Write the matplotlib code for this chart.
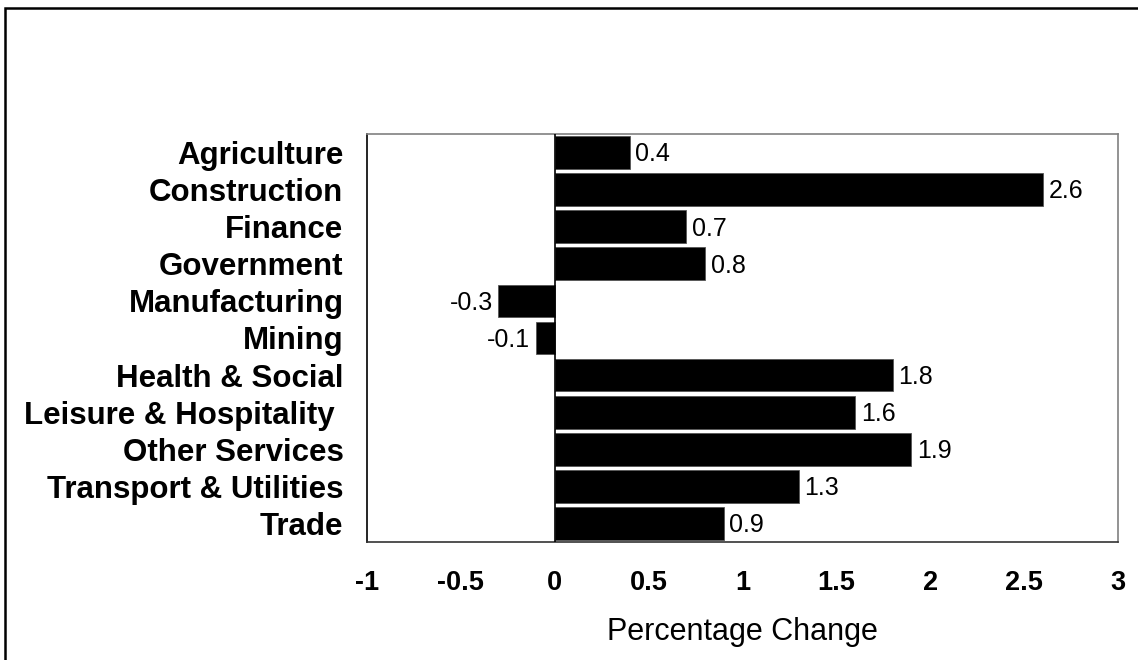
import matplotlib.pyplot as plt
from matplotlib.patches import Rectangle

plt.rcParams['font.family'] = ['Liberation Sans', 'DejaVu Sans']

# data (top to bottom)
sectors = ['Agriculture', 'Construction', 'Finance', 'Government', 'Manufacturing',
           'Mining', 'Health & Social', 'Leisure & Hospitality ', 'Other Services',
           'Transport & Utilities', 'Trade']
change = [0.4, 2.6, 0.7, 0.8, -0.3, -0.1, 1.8, 1.6, 1.9, 1.3, 0.9]
xticks = [-1, -0.5, 0, 0.5, 1, 1.5, 2, 2.5, 3]
xtick_labels = ['-1', '-0.5', '0', '0.5', '1', '1.5', '2', '2.5', '3']

fig = plt.figure(figsize=(11.38, 6.6), dpi=100)
ax = fig.add_axes([367 / 1138, 1 - 542 / 660, (1118 - 367) / 1138, (542 - 134) / 660])

ypos = list(range(len(sectors)))
ax.barh(ypos, change, height=0.88, color='black', edgecolor='#555555', linewidth=0.6, zorder=2)
ax.set_ylim(len(sectors) - 0.5, -0.5)
ax.set_xlim(-1, 3)
ax.axvline(0, color='black', linewidth=1.2, zorder=3)

for y, v in zip(ypos, change):
    if v >= 0:
        ax.text(v + 0.03, y + 0.05, f'{v:g}', va='center', ha='left', fontsize=18)
    else:
        ax.text(v - 0.03, y + 0.05, f'{v:g}', va='center', ha='right', fontsize=18)

ax.set_yticks(ypos)
ax.set_yticklabels(sectors, fontsize=22.5, fontweight='bold')
ax.set_xticks(xticks)
ax.set_xticklabels(xtick_labels, fontsize=19.5, fontweight='bold')
ax.tick_params(axis='y', length=0, pad=17)
ax.tick_params(axis='x', length=0, pad=20)
ax.set_xlabel('Percentage Change', fontsize=22, labelpad=15)

ax.spines['left'].set_color('black')
ax.spines['bottom'].set_color('#333333')
ax.spines['top'].set_color('#808080')
ax.spines['right'].set_color('#808080')
for s in ax.spines.values():
    s.set_linewidth(1.2)

# outer frame, only left and top edges fall inside the image
fig.patches.append(Rectangle((5 / 1138, -0.1), 1.2, 1 - 8 / 660 + 0.1,
                             transform=fig.transFigure, fill=False,
                             edgecolor='black', linewidth=1.8))

fig.savefig('out.png', dpi=100)
